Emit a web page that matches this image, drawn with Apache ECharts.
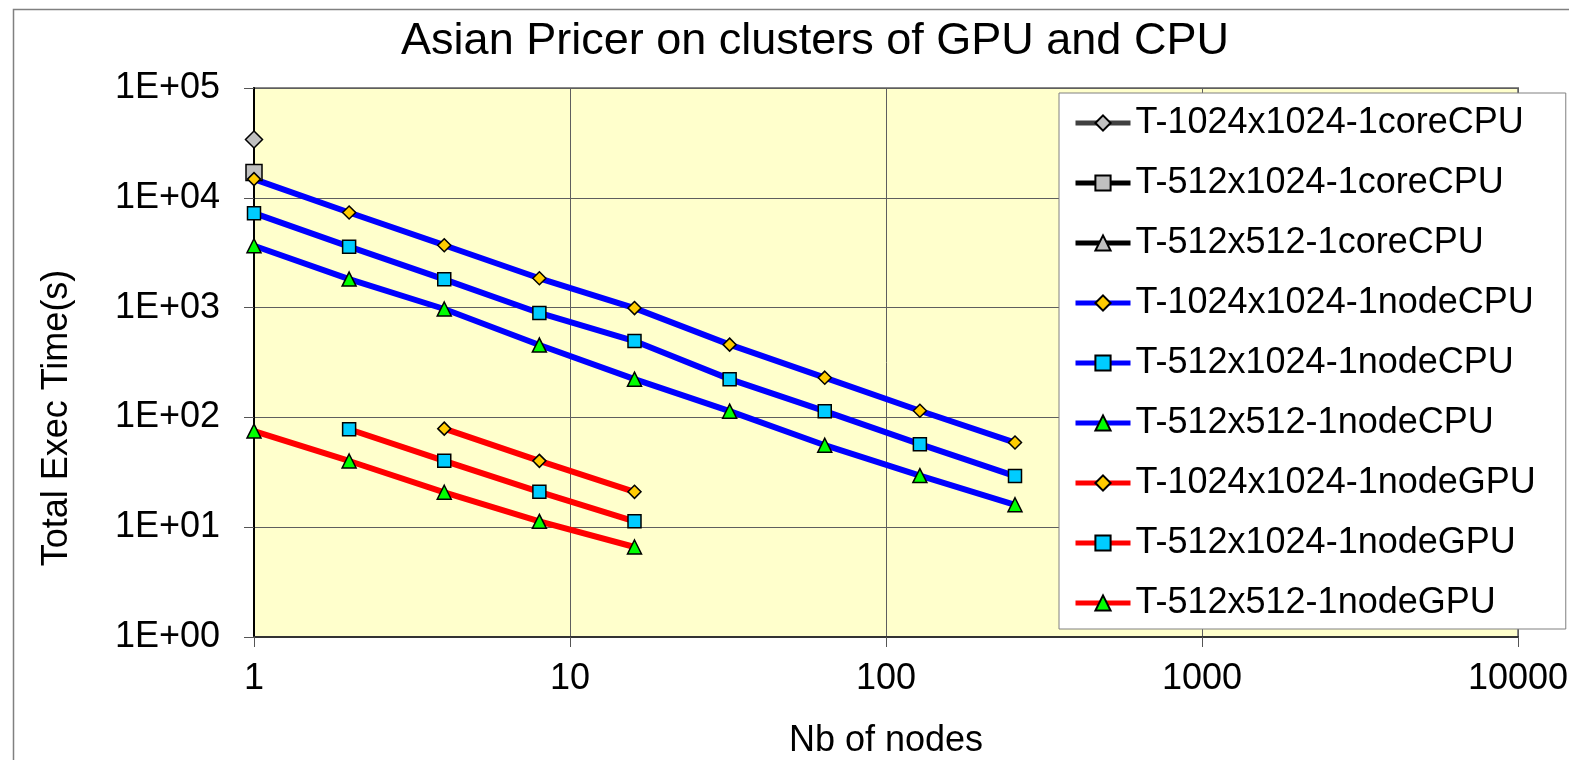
<!DOCTYPE html>
<html>
<head>
<meta charset="utf-8">
<script src="https://cdn.jsdelivr.net/npm/echarts@6/dist/echarts.min.js"></script>
<style>
  html, body { margin: 0; padding: 0; background: #fff; }
  #chart { width: 1569px; height: 760px; }
</style>
</head>
<body>
<div id="chart"></div>
<script>
// Node counts used in the runs
const nodes = [1, 2, 4, 8, 16, 32, 64, 128, 256];

// Total execution time in seconds, per configuration
const coreCPU_1024x1024 = [34000];
const coreCPU_512x1024 = [17000];
const coreCPU_512x512 = [];
const nodeCPU_1024x1024 = [14800, 7350, 3700, 1850, 990, 460, 230, 115, 59];
const nodeCPU_512x1024 = [7240, 3590, 1810, 893, 496, 223, 114, 57, 29.2];
const nodeCPU_512x512 = [3660, 1820, 971, 456, 223, 114, 55.8, 29.5, 16.0];
const gpuNodes_1024x1024 = [4, 8, 16];
const nodeGPU_1024x1024 = [79, 40.2, 21.0];
const gpuNodes_512x1024 = [2, 4, 8, 16];
const nodeGPU_512x1024 = [78, 40.2, 21.0, 11.3];
const gpuNodes_512x512 = [1, 2, 4, 8, 16];
const nodeGPU_512x512 = [75, 40.1, 20.8, 11.3, 6.6];

const FONT = '"Liberation Sans", Arial, sans-serif';

function pairs(xs, ys) {
  return ys.map((y, i) => [xs[i], y]);
}

function makeSeries(name, xs, ys, lineColor, symbol, fill, size) {
  return {
    name: name,
    type: 'line',
    data: pairs(xs, ys),
    symbol: symbol,
    symbolSize: size,
    showAllSymbol: true,
    lineStyle: { color: lineColor, width: 6 },
    itemStyle: { color: fill, borderColor: '#000', borderWidth: 1.5 },
    emphasis: { disabled: true },
    animation: false
  };
}

const series = [
  makeSeries('T-1024x1024-1coreCPU', nodes, coreCPU_1024x1024, '#404040', 'diamond', '#C0C0C0', 17),
  makeSeries('T-512x1024-1coreCPU', nodes, coreCPU_512x1024, '#000000', 'rect', '#C0C0C0', 16),
  makeSeries('T-512x512-1coreCPU', nodes, coreCPU_512x512, '#000000', 'triangle', '#C0C0C0', 14),
  makeSeries('T-1024x1024-1nodeCPU', nodes, nodeCPU_1024x1024, '#0000FF', 'diamond', '#FFCC00', 13),
  makeSeries('T-512x1024-1nodeCPU', nodes, nodeCPU_512x1024, '#0000FF', 'rect', '#00CCFF', 13),
  makeSeries('T-512x512-1nodeCPU', nodes, nodeCPU_512x512, '#0000FF', 'triangle', '#00FF00', 14),
  makeSeries('T-1024x1024-1nodeGPU', gpuNodes_1024x1024, nodeGPU_1024x1024, '#FF0000', 'diamond', '#FFCC00', 13),
  makeSeries('T-512x1024-1nodeGPU', gpuNodes_512x1024, nodeGPU_512x1024, '#FF0000', 'rect', '#00CCFF', 13),
  makeSeries('T-512x512-1nodeGPU', gpuNodes_512x512, nodeGPU_512x512, '#FF0000', 'triangle', '#00FF00', 14)
];

function sci(v) {
  const e = Math.round(Math.log10(v));
  return '1E+' + String(e).padStart(2, '0');
}

const chart = echarts.init(document.getElementById('chart'), null, { renderer: 'canvas' });
chart.setOption({
  animation: false,
  backgroundColor: '#ffffff',
  textStyle: { fontFamily: FONT },
  title: {
    text: 'Asian Pricer on clusters of GPU and CPU',
    left: 810,
    textAlign: 'center',
    top: 14,
    textStyle: { fontFamily: FONT, fontSize: 45, fontWeight: 'normal', color: '#000' }
  },
  grid: {
    left: 254, top: 88, right: 51, bottom: 123,
    outerBoundsMode: 'none',
    containLabel: false,
    show: true,
    backgroundColor: '#FFFFCC',
    borderColor: '#888888',
    borderWidth: 2
  },
  legend: {
    orient: 'vertical',
    left: 1059,
    top: 93,
    padding: [10, 30, 6, 14],
    itemWidth: 55,
    itemHeight: 19,
    itemGap: 20,
    backgroundColor: '#ffffff',
    borderColor: '#808080',
    borderWidth: 1,
    selectedMode: false,
    lineStyle: { width: 5 },
    textStyle: { fontFamily: FONT, fontSize: 36, lineHeight: 40, color: '#000' },
    data: series.map(s => s.name)
  },
  xAxis: {
    type: 'log',
    logBase: 10,
    min: 1,
    max: 10000,
    name: 'Nb of nodes',
    nameLocation: 'middle',
    nameGap: 86,
    nameTextStyle: { fontFamily: FONT, fontSize: 36, color: '#000' },
    axisLine: { show: true, lineStyle: { color: '#333', width: 2 } },
    axisTick: { show: true, length: 10, lineStyle: { color: '#555', width: 1 } },
    minorTick: { show: false },
    axisLabel: { fontFamily: FONT, fontSize: 36, color: '#000', margin: 24, formatter: v => String(v) },
    splitLine: { show: true, lineStyle: { color: '#5e5e5e', width: 1 } }
  },
  yAxis: {
    type: 'log',
    logBase: 10,
    min: 1,
    max: 100000,
    axisLine: { show: true, lineStyle: { color: '#000', width: 2 } },
    axisTick: { show: true, length: 10, lineStyle: { color: '#555', width: 1 } },
    axisLabel: { fontFamily: FONT, fontSize: 36, color: '#000', margin: 34, formatter: sci },
    splitLine: { show: true, lineStyle: { color: '#5e5e5e', width: 1 } }
  },
  graphic: [
    {
      type: 'rect',
      left: 11, top: 7,
      shape: { width: 1600, height: 800 },
      style: { fill: 'none', stroke: '#808080', lineWidth: 1.5 },
      silent: true,
      z: -10
    },
    {
      type: 'text',
      x: 57, y: 418,
      rotation: Math.PI / 2,
      style: {
        text: 'Total Exec Time(s)',
        font: '36px ' + FONT,
        fill: '#000',
        textAlign: 'center',
        textVerticalAlign: 'middle'
      },
      silent: true
    }
  ],
  series: series
});
</script>
</body>
</html>
